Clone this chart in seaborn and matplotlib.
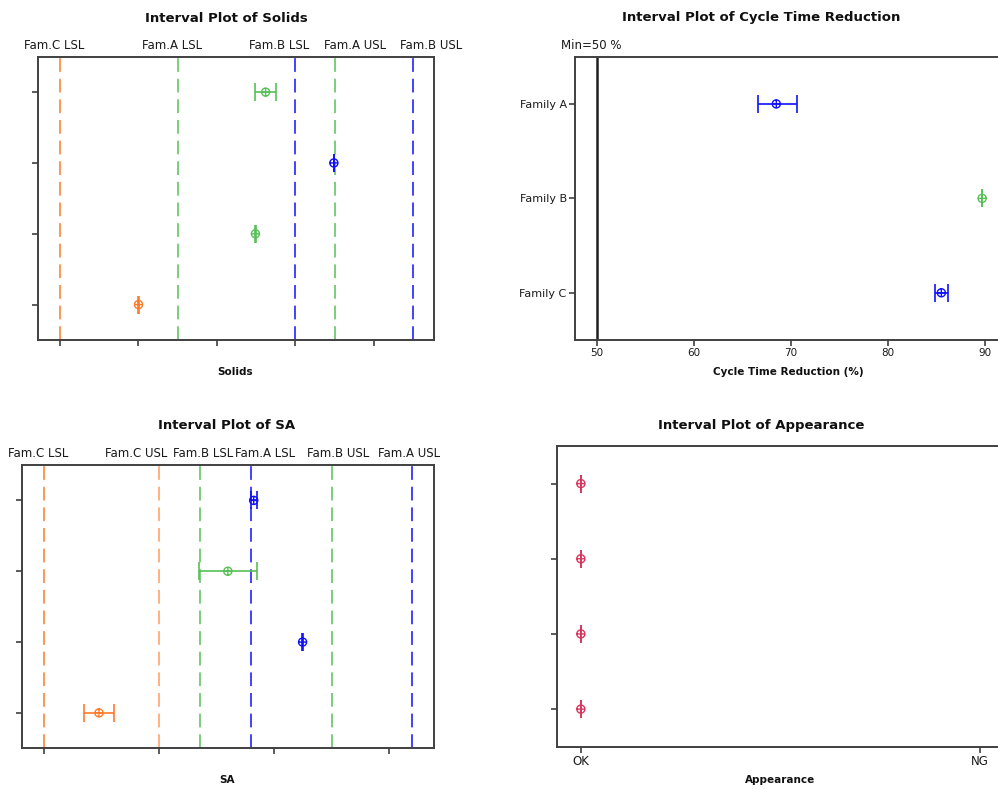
import numpy as np
import pandas as pd
import matplotlib
matplotlib.use("Agg")
import matplotlib.pyplot as plt
import matplotlib.transforms as mtransforms
from matplotlib.path import Path
import seaborn as sns

# ---------------- data ----------------
# Solids panel (4 unnamed rows, top to bottom)
solids_mean = [26.2, 34.9, 24.9, 10.0]
solids_low = [24.8, 34.87, 24.87, 9.97]
solids_high = [27.5, 34.93, 24.93, 10.03]
solids_spec_names = ["Fam.C LSL", "Fam.A LSL", "Fam.B LSL", "Fam.A USL", "Fam.B USL"]
solids_spec_values = [0, 15, 30, 35, 45]
solids_ticks = [0, 10, 20, 30, 40]

# Cycle time reduction panel
ctr_families = ["Family A", "Family B", "Family C"]
ctr_mean = [68.5, 89.7, 85.5]
ctr_low = [66.6, 89.67, 84.8]
ctr_high = [70.6, 89.73, 86.2]
ctr_min = 50
ctr_min_label = "Min=50 %"
ctr_ticks = [50, 60, 70, 80, 90]

# SA panel (4 unnamed rows)
sa_mean = [18.2, 15.95, 22.45, 4.75]
sa_low = [17.95, 13.45, 22.43, 3.45]
sa_high = [18.5, 18.5, 22.47, 6.05]
sa_spec_names = ["Fam.C LSL", "Fam.C USL", "Fam.B LSL", "Fam.A LSL", "Fam.B USL", "Fam.A USL"]
sa_spec_values = [0, 10, 13.5, 18, 25, 32]
sa_ticks = [0, 10, 20, 30]

# Appearance panel (4 unnamed rows)
app_categories = ["OK", "NG"]
app_values = ["OK", "OK", "OK", "OK"]

# ---------------- styles ----------------
ORANGE = "#ff7a2a"
LORANGE = "#ff9d60"
GREEN = "#58c058"
BLUE = "#1010ff"
PINK = "#d8365f"
SPINE = "#404040"

solids_colors = [GREEN, BLUE, GREEN, ORANGE]
solids_spec_colors = [ORANGE, GREEN, BLUE, GREEN, BLUE]
solids_label_nudge = [-6, -6, -16, 20, 18]  # px
ctr_colors = [BLUE, GREEN, BLUE]
sa_colors = [BLUE, GREEN, BLUE, ORANGE]
sa_spec_colors = [ORANGE, LORANGE, GREEN, BLUE, GREEN, BLUE]
sa_label_nudge = [-6, -23, 3, 14, 6, -3]  # px
app_color = PINK

sns.set_style("white")
plt.rcParams["font.family"] = ["DejaVu Sans"]

W, H = 998, 789
fig = plt.figure(figsize=(W / 100, H / 100), dpi=100)


def add_ax(left, right, top, bottom):
    return fig.add_axes([left / W, 1 - bottom / H, (right - left) / W, (bottom - top) / H])


# circle with cross marker
circ = Path.unit_circle()
cross = Path([(-1, 0), (1, 0), (0, -1), (0, 1)],
             [Path.MOVETO, Path.LINETO, Path.MOVETO, Path.LINETO])
OPLUS = Path.make_compound_path(circ, cross)

PX2PT = 0.72


def style_axes(ax):
    for s in ax.spines.values():
        s.set_color(SPINE)
        s.set_linewidth(1.4)
    ax.tick_params(direction="out", length=4, width=1.2, color=SPINE,
                   labelsize=8, pad=2, bottom=True, left=True,
                   top=False, right=False, labelcolor="#1a1a1a")


def draw_intervals(ax, mean, low, high, colors):
    ys = list(range(len(mean)))
    for y, m, lo, hi, c in zip(ys, mean, low, high, colors):
        ax.errorbar(x=[m], y=[y], xerr=[[m - lo], [hi - m]], fmt="none",
                    ecolor=c, elinewidth=1.2, capsize=6.3, capthick=1.2, zorder=3)
        sns.scatterplot(x=[m], y=[y], ax=ax, marker=OPLUS, s=34, color=c,
                        facecolor="none", edgecolor=c, linewidth=1.0, zorder=4,
                        legend=False)


def draw_specs(ax, names, values, colors, nudges):
    trans = mtransforms.blended_transform_factory(ax.transData, ax.transAxes)
    for n, v, c, dx in zip(names, values, colors, nudges):
        ax.axvline(v, color=c, lw=1.1, linestyle=(0, (9, 4.5)), zorder=2)
        ax.annotate(n, xy=(v, 1), xycoords=trans, xytext=(dx * PX2PT, 11 * PX2PT),
                    textcoords="offset points", ha="center", va="center",
                    fontsize=8.5, color="#1a1a1a", annotation_clip=False)


# ---------- Solids ----------
ax1 = add_ax(38.3, 434.3, 56.7, 340)
draw_specs(ax1, solids_spec_names, solids_spec_values, solids_spec_colors, solids_label_nudge)
draw_intervals(ax1, solids_mean, solids_low, solids_high, solids_colors)
ax1.set_xlim(-2.77, 47.7)
ax1.set_ylim(len(solids_mean) - 0.5, -0.5)
ax1.set_xticks(solids_ticks)
ax1.set_xticklabels([])
ax1.set_yticks(range(len(solids_mean)))
ax1.set_yticklabels([])
ax1.set_xlabel("")
ax1.set_ylabel("")
style_axes(ax1)

# ---------- Cycle time reduction ----------
ax2 = add_ax(575, 1010, 56.7, 340)
draw_intervals(ax2, ctr_mean, ctr_low, ctr_high, ctr_colors)
ax2.axvline(ctr_min, color="#202020", lw=1.8, zorder=2)
trans2 = mtransforms.blended_transform_factory(ax2.transData, ax2.transAxes)
ax2.annotate(ctr_min_label, xy=(ctr_min, 1), xycoords=trans2,
             xytext=(-5 * PX2PT, 11 * PX2PT), textcoords="offset points",
             ha="center", va="center", fontsize=8.5, color="#1a1a1a",
             annotation_clip=False)
ax2.set_xlim(47.77, 92.57)
ax2.set_ylim(len(ctr_families) - 0.5, -0.5)
ax2.set_xticks(ctr_ticks)
ax2.set_yticks(range(len(ctr_families)))
ax2.set_yticklabels(ctr_families)
ax2.set_xlabel("")
ax2.set_ylabel("")
style_axes(ax2)
ax2.tick_params(axis="x", labelsize=7.5)

# ---------- SA ----------
ax3 = add_ax(21.7, 434.3, 465, 748.3)
draw_specs(ax3, sa_spec_names, sa_spec_values, sa_spec_colors, sa_label_nudge)
draw_intervals(ax3, sa_mean, sa_low, sa_high, sa_colors)
ax3.set_xlim(-1.97, 33.9)
ax3.set_ylim(len(sa_mean) - 0.5, -0.5)
ax3.set_xticks(sa_ticks)
ax3.set_xticklabels([])
ax3.set_yticks(range(len(sa_mean)))
ax3.set_yticklabels([])
ax3.set_xlabel("")
ax3.set_ylabel("")
style_axes(ax3)

# ---------- Appearance ----------
ax4 = add_ax(557.3, 1010, 446, 746.7)
app_x = [app_categories.index(v) for v in app_values]
draw_intervals(ax4, app_x, app_x, app_x, [app_color] * len(app_x))
ax4.set_xlim(-0.059, 1.075)
ax4.set_ylim(len(app_values) - 0.5, -0.5)
ax4.set_xticks(range(len(app_categories)))
ax4.set_xticklabels(app_categories)
ax4.set_yticks(range(len(app_values)))
ax4.set_yticklabels([])
ax4.set_xlabel("")
ax4.set_ylabel("")
style_axes(ax4)
ax4.tick_params(axis="x", labelsize=8.5)

# ---------- titles and axis labels ----------
def ftext(x, y, s, **kw):
    fig.text(x / W, 1 - y / H, s, ha="center", va="center", color="#101010", **kw)

ftext(226, 18, "Interval Plot of Solids", fontsize=9.5, fontweight="bold")
ftext(761, 18, "Interval Plot of Cycle Time Reduction", fontsize=9.5, fontweight="bold")
ftext(227, 426, "Interval Plot of SA", fontsize=9.5, fontweight="bold")
ftext(761, 426, "Interval Plot of Appearance", fontsize=9.5, fontweight="bold")

ftext(235, 372, "Solids", fontsize=7.5, fontweight="bold")
ftext(788, 372, "Cycle Time Reduction (%)", fontsize=7.5, fontweight="bold")
ftext(227, 780, "SA", fontsize=7.5, fontweight="bold")
ftext(780, 780, "Appearance", fontsize=7.5, fontweight="bold")

fig.savefig("out.png", dpi=100)
